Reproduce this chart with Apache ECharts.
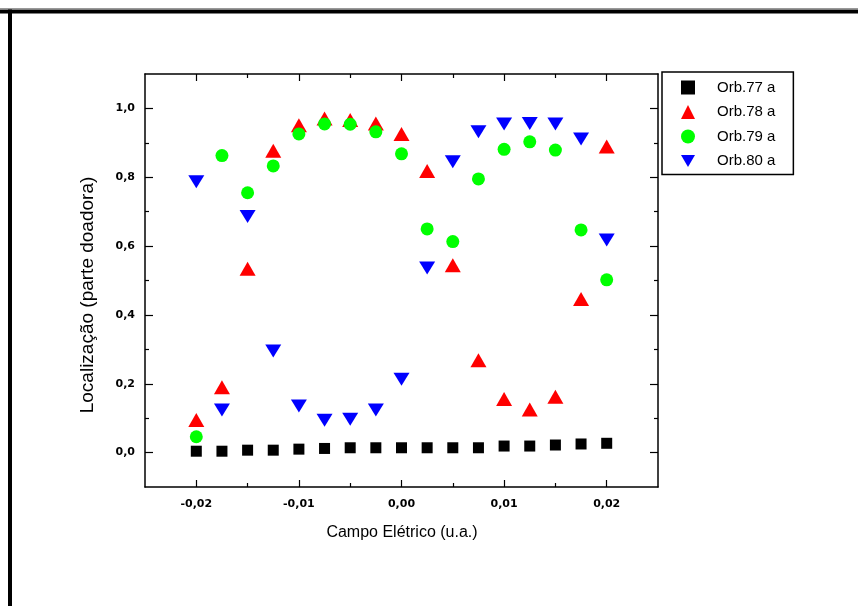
<!DOCTYPE html>
<html>
<head>
<meta charset="utf-8">
<script src="https://cdn.jsdelivr.net/npm/echarts@6/dist/echarts.min.js"></script>
<style>
  html, body { margin: 0; padding: 0; background: #fff; }
  #chart { width: 858px; height: 606px; }
</style>
</head>
<body>
<div id="chart"></div>
<script>
// Electric field values (u.a.)
const campo = [-0.02, -0.0175, -0.015, -0.0125, -0.01, -0.0075, -0.005, -0.0025, 0,
               0.0025, 0.005, 0.0075, 0.01, 0.0125, 0.015, 0.0175, 0.02];

// Localization on the donor part for each orbital
const orb77 = [0.004, 0.004, 0.007, 0.007, 0.010, 0.012, 0.014, 0.014, 0.014,
               0.014, 0.014, 0.014, 0.019, 0.019, 0.022, 0.025, 0.027];
const orb78 = [0.095, 0.190, 0.534, 0.877, 0.951, 0.971, 0.966, 0.956, 0.926,
               0.818, 0.544, 0.268, 0.156, 0.125, 0.162, 0.446, 0.889];
const orb79 = [0.046, 0.863, 0.755, 0.833, 0.926, 0.955, 0.954, 0.932, 0.868,
               0.650, 0.613, 0.795, 0.881, 0.903, 0.879, 0.647, 0.502];
const orb80 = [0.787, 0.124, 0.686, 0.295, 0.135, 0.094, 0.097, 0.124, 0.213,
               0.536, 0.845, 0.932, 0.955, 0.956, 0.955, 0.911, 0.618];

const seriesNames = ['Orb.77 a', 'Orb.78 a', 'Orb.79 a', 'Orb.80 a'];

// Axis ticks and their labels
const xMajorTicks = [-0.02, -0.01, 0, 0.01, 0.02];
const xTickLabels = ['-0,02', '-0,01', '0,00', '0,01', '0,02'];
const xMinorTicks = [-0.015, -0.005, 0.005, 0.015];
const yMajorTicks = [0, 0.2, 0.4, 0.6, 0.8, 1.0];
const yTickLabels = ['0,0', '0,2', '0,4', '0,6', '0,8', '1,0'];
const yMinorTicks = [0.1, 0.3, 0.5, 0.7, 0.9];

function labelFor(ticks, labels) {
  return function (v) {
    for (let i = 0; i < ticks.length; i++) {
      if (Math.abs(ticks[i] - v) < 1e-9) return labels[i];
    }
    return '';
  };
}

const lineStyle = { color: '#000', width: 1.5 };
const tickFont = { fontFamily: 'DejaVu Sans', fontWeight: 'bold', fontSize: 11, color: '#000' };

function xAxisDef(position, ticks, len, showLine, labels) {
  return {
    type: 'value', position: position, min: -0.025, max: 0.025, interval: 0.005,
    axisLine: { show: showLine, onZero: false, lineStyle: lineStyle },
    axisTick: { show: true, inside: true, length: len, customValues: ticks, lineStyle: { color: '#000', width: 1.2 } },
    axisLabel: labels ? Object.assign({ show: true, margin: 12, customValues: xMajorTicks,
                 formatter: labelFor(xMajorTicks, xTickLabels) }, tickFont) : { show: false },
    splitLine: { show: false }
  };
}
function yAxisDef(position, ticks, len, showLine, labels) {
  return {
    type: 'value', position: position, min: -0.1, max: 1.1, interval: 0.1,
    axisLine: { show: showLine, onZero: false, lineStyle: lineStyle },
    axisTick: { show: true, inside: true, length: len, customValues: ticks, lineStyle: { color: '#000', width: 1.2 } },
    axisLabel: labels ? Object.assign({ show: true, margin: 10, customValues: yMajorTicks,
                 formatter: labelFor(yMajorTicks, yTickLabels) }, tickFont) : { show: false },
    splitLine: { show: false }
  };
}

const xAxes = [
  xAxisDef('bottom', xMajorTicks, 7, true, true),
  xAxisDef('bottom', xMinorTicks, 4, false, false),
  xAxisDef('top', xMajorTicks, 7, true, false),
  xAxisDef('top', xMinorTicks, 4, false, false)
];
const yAxes = [
  yAxisDef('left', yMajorTicks, 8, true, true),
  yAxisDef('left', yMinorTicks, 4, false, false),
  yAxisDef('right', yMajorTicks, 8, true, false),
  yAxisDef('right', yMinorTicks, 4, false, false)
];

function pairs(ys) { return campo.map((x, i) => [x, ys[i]]); }

const chart = echarts.init(document.getElementById('chart'), null, { renderer: 'canvas' });
chart.setOption({
  backgroundColor: '#fff',
  animation: false,
  grid: { left: 145, right: 200, top: 74, bottom: 119, containLabel: false },
  xAxis: xAxes,
  yAxis: yAxes,
  legend: {
    orient: 'vertical', left: 662, top: 72,
    padding: [8, 18, 6, 19],
    itemWidth: 14, itemHeight: 14, itemGap: 9.5,
    borderColor: '#000', borderWidth: 1.5, borderRadius: 0,
    backgroundColor: '#fff',
    textStyle: { fontFamily: 'Liberation Sans', fontSize: 15, color: '#000',
                 width: 86, padding: [0, 0, 0, 17] },
    data: seriesNames
  },
  graphic: [
    { type: 'rect', shape: { x: 0, y: 8, width: 858, height: 1 }, style: { fill: '#999' }, silent: true },
    { type: 'rect', shape: { x: 0, y: 9.5, width: 858, height: 4 }, style: { fill: '#000' }, silent: true },
    { type: 'rect', shape: { x: 8, y: 9.5, width: 4, height: 600 }, style: { fill: '#000' }, silent: true },
    { type: 'text', x: 402, y: 533,
      style: { text: 'Campo Elétrico (u.a.)', font: '16px "Liberation Sans"', fill: '#000',
               align: 'center', verticalAlign: 'middle' } },
    { type: 'text', x: 88, y: 295, rotation: Math.PI / 2,
      style: { text: 'Localização (parte doadora)', font: '19px "Liberation Sans"', fill: '#000',
               align: 'center', verticalAlign: 'middle' } }
  ],
  series: [
    { name: seriesNames[0], type: 'scatter', data: pairs(orb77), symbol: 'rect', symbolSize: 11,
      itemStyle: { color: '#000000', opacity: 1 } },
    { name: seriesNames[1], type: 'scatter', data: pairs(orb78), symbol: 'triangle', symbolSize: [16, 14],
      itemStyle: { color: '#ff0000', opacity: 1 } },
    { name: seriesNames[2], type: 'scatter', data: pairs(orb79), symbol: 'circle', symbolSize: 13,
      itemStyle: { color: '#00ff00', opacity: 1 } },
    { name: seriesNames[3], type: 'scatter', data: pairs(orb80), symbol: 'path://M0,0 L2,0 L1,1.7 Z', symbolSize: [16, 13],
      itemStyle: { color: '#0000ff', opacity: 1 } }
  ]
});
</script>
</body>
</html>
